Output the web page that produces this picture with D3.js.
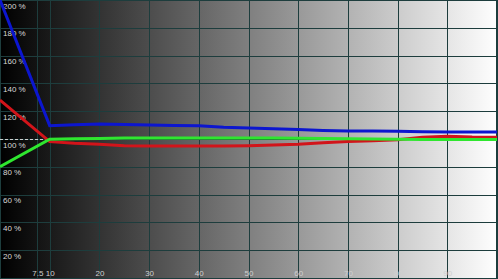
<!DOCTYPE html>
<html>
<head>
<meta charset="utf-8">
<script src="https://cdn.jsdelivr.net/npm/d3@7"></script>
<style>
  body { margin: 0; background: #fff; }
  svg { display: block; }
</style>
</head>
<body>
<div id="chart"></div>
<script>
// stimulus level (%) and measured value per channel (%)
const stimulus = [0, 10, 15, 20, 25, 30, 35, 40, 45, 50, 55, 60, 65, 70, 75, 80, 85, 90, 95, 100];
const blue  = [200, 109.6, 110.3, 110.8, 110.4, 110.1, 109.8, 109.6, 108.4, 108.0, 107.4, 106.8, 106.2, 105.8, 105.8, 105.5, 105.3, 105.0, 105.0, 105.0];
const red   = [128, 98.1, 96.9, 96.3, 95.2, 95.0, 95.0, 95.0, 95.0, 95.2, 95.6, 96.2, 97.3, 98.2, 98.7, 99.4, 101.3, 102.0, 101.4, 101.3];
const green = [80, 99.8, 100.1, 100.4, 100.7, 100.7, 100.7, 100.7, 100.7, 100.7, 100.7, 100.6, 100.4, 100.2, 100.0, 99.8, 99.6, 99.6, 99.6, 99.6];

const xTicks = [7.5, 10, 20, 30, 40, 50, 60, 70, 80, 90];
const xGrid = [7.5, 10, 20, 30, 40, 50, 60, 70, 80, 90, 100];
const yTicks = [20, 40, 60, 80, 100, 120, 140, 160, 180, 200];
const yGrid = [0, 20, 40, 60, 80, 100, 120, 140, 160, 180, 200];

const width = 498;
const height = 279;

const x = d3.scaleLinear().domain([0, 100]).range([0, 497]);
const y = d3.scaleLinear().domain([0, 200]).range([278, 0]);

const svg = d3.select("#chart")
    .append("svg")
    .attr("width", width)
    .attr("height", height)
    .style("font", "8px 'Liberation Sans', Arial, sans-serif");

// grey ramp behind the chart
const grad = svg.append("defs").append("linearGradient")
    .attr("id", "ramp")
    .attr("x1", "0").attr("x2", "1").attr("y1", "0").attr("y2", "0");
grad.append("stop").attr("offset", "0%").attr("stop-color", "#000");
grad.append("stop").attr("offset", "100%").attr("stop-color", "#fff");

svg.append("rect")
    .attr("width", width)
    .attr("height", height)
    .attr("fill", "url(#ramp)");

const crisp = v => Math.round(v) + 0.5;

svg.append("g")
    .attr("stroke", "#1d3d3d")
    .attr("stroke-width", 1)
    .call(g => g.selectAll("line.v")
        .data(xGrid)
        .join("line")
        .attr("class", "v")
        .attr("x1", d => crisp(x(d)) - (d === 100 ? 1 : 0))
        .attr("x2", d => crisp(x(d)) - (d === 100 ? 1 : 0))
        .attr("y1", 0)
        .attr("y2", height))
    .call(g => g.selectAll("line.h")
        .data(yGrid)
        .join("line")
        .attr("class", "h")
        .attr("x1", 0)
        .attr("x2", width)
        .attr("y1", d => crisp(y(d)))
        .attr("y2", d => crisp(y(d))));

svg.append("rect")
    .attr("x", 0.5)
    .attr("y", 0.5)
    .attr("width", width - 1)
    .attr("height", height - 1)
    .attr("fill", "none")
    .attr("stroke", "#1d3d3d");

// dashed reference at 100 %
svg.append("line")
    .attr("x1", x(0))
    .attr("x2", x(10))
    .attr("y1", crisp(y(100)))
    .attr("y2", crisp(y(100)))
    .attr("stroke", "#cfcfcf")
    .attr("stroke-dasharray", "3,2");

// labels
svg.append("g")
    .attr("fill", "#d8d8d8")
    .selectAll("text")
    .data(yTicks)
    .join("text")
    .attr("x", 3)
    .attr("y", d => y(d) + 8.5)
    .text(d => `${d} %`);

svg.append("g")
    .attr("fill", "#d0d0d0")
    .attr("text-anchor", "middle")
    .selectAll("text")
    .data(xTicks)
    .join("text")
    .attr("x", d => x(d) + 0.5)
    .attr("y", 276)
    .text(d => d);

const line = d3.line()
    .x((d, i) => x(stimulus[i]))
    .y(d => y(d));

const series = [
  {name: "blue", values: blue, color: "#0c16cf"},
  {name: "red", values: red, color: "#d2141a"},
  {name: "green", values: green, color: "#2fe62f"},
];

svg.append("g")
    .attr("fill", "none")
    .attr("stroke-width", 3)
    .selectAll("path")
    .data(series)
    .join("path")
    .attr("stroke", d => d.color)
    .attr("d", d => line(d.values));
</script>
</body>
</html>
